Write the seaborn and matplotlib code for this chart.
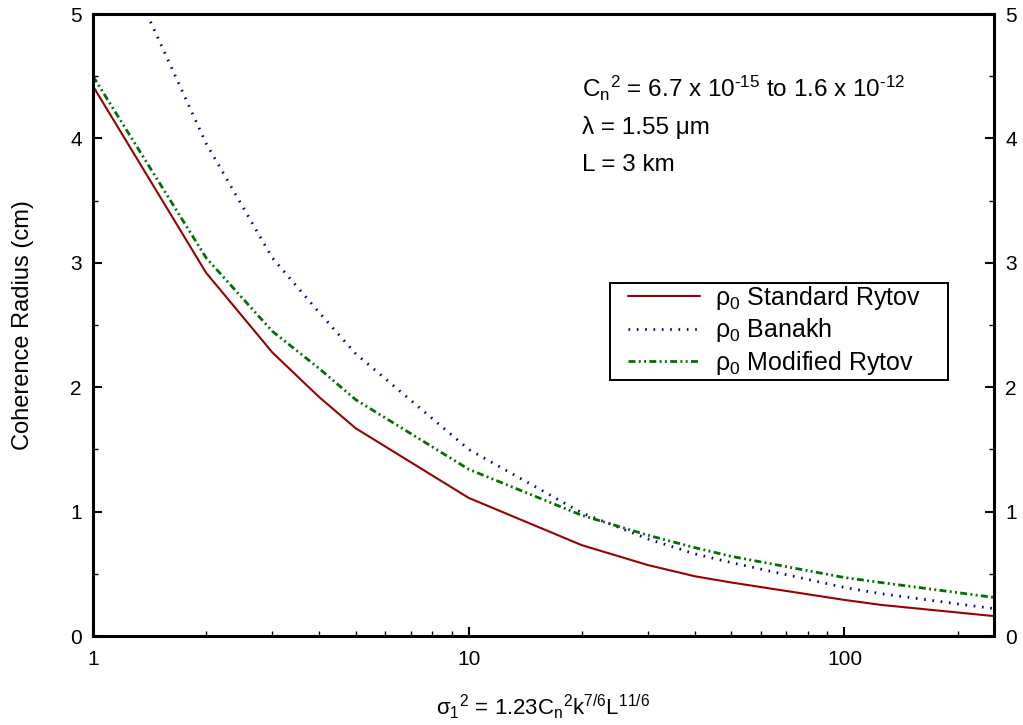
import numpy as np
import pandas as pd
import matplotlib
matplotlib.use("Agg")
import matplotlib.pyplot as plt
from matplotlib.patches import Rectangle
import seaborn as sns

# ---- data ----
sigma2 = [1, 2, 3, 4, 5, 10, 20, 30, 40, 50, 100, 125, 250]
rho_standard = [4.42, 2.92, 2.28, 1.92, 1.67, 1.11, 0.73, 0.57, 0.48, 0.43, 0.29, 0.25, 0.16]
rho_banakh = [5.95, 3.96, 3.04, 2.60, 2.27, 1.50, 0.99, 0.78, 0.66, 0.59, 0.39, 0.34, 0.22]
rho_modified = [4.50, 3.04, 2.45, 2.15, 1.90, 1.34, 0.97, 0.81, 0.71, 0.64, 0.47, 0.43, 0.31]
series_names = [r"$\mathregular{ρ_0}$ Standard Rytov",
                r"$\mathregular{ρ_0}$ Banakh",
                r"$\mathregular{ρ_0}$ Modified Rytov"]
y_ticks = [0, 1, 2, 3, 4, 5]
x_ticks = [1, 10, 100]
x_tick_labels = ["1", "10", "100"]

df = pd.DataFrame({
    "x": sigma2 * 3,
    "y": rho_standard + rho_banakh + rho_modified,
    "series": [series_names[0]] * len(sigma2) + [series_names[1]] * len(sigma2)
              + [series_names[2]] * len(sigma2),
})

sns.set_theme(style="white")
plt.rcParams["font.family"] = ["Liberation Sans", "DejaVu Sans"]
plt.rcParams["mathtext.fontset"] = "custom"
plt.rcParams["mathtext.rm"] = "Liberation Sans"
plt.rcParams["mathtext.it"] = "Liberation Sans:italic"
plt.rcParams["mathtext.bf"] = "Liberation Sans:bold"
plt.rcParams["text.color"] = "black"
plt.rcParams["axes.labelcolor"] = "black"
plt.rcParams["xtick.color"] = "black"
plt.rcParams["ytick.color"] = "black"

fig = plt.figure(figsize=(10.23, 7.25), dpi=100)
ax = fig.add_axes([93 / 1023, 1 - 636 / 725, (994 - 93) / 1023, (636 - 14) / 725])

colors = {series_names[0]: "#990000", series_names[1]: "#000099", series_names[2]: "#007000"}
styles = {series_names[0]: "-",
          series_names[1]: (0, (0.6, 2.4)),
          series_names[2]: (0, (2.5, 1.2, 0.7, 1.2, 0.7, 1.2))}
widths = {series_names[0]: 1.5, series_names[1]: 2.0, series_names[2]: 2.0}

for name in series_names:
    sub = df[df["series"] == name]
    sns.lineplot(data=sub, x="x", y="y", ax=ax, color=colors[name],
                 linestyle=styles[name], linewidth=widths[name], label=name,
                 estimator=None, sort=False)

ax.set_xscale("log")
ax.set_xlim(1, 250)
ax.set_ylim(0, 5)
ax.set_xticks(x_ticks)
ax.set_xticklabels(x_tick_labels)
ax.set_xticks([v * d for d in (1, 10, 100) for v in range(2, 10) if v * d < 250], minor=True)
ax.xaxis.set_minor_formatter(matplotlib.ticker.NullFormatter())
ax.set_yticks(y_ticks)
ax.set_yticks([0.5, 1.5, 2.5, 3.5, 4.5], minor=True)

for sp in ax.spines.values():
    sp.set_visible(True)
    sp.set_color("black")
    sp.set_linewidth(2.2)

ax.tick_params(axis="both", which="major", direction="in", length=6.5, width=1.5,
               labelsize=15, colors="black")
ax.tick_params(axis="x", which="major", pad=10)
ax.tick_params(axis="y", which="major", pad=8)
ax.tick_params(axis="both", which="minor", direction="in", length=3.5, width=1.0)
ax.tick_params(axis="y", which="both", left=True, right=True, labelleft=True, labelright=True)
ax.tick_params(axis="x", which="both", bottom=True, top=False)

ax.set_xlabel(r"$\mathregular{σ_1{}^2}$ = 1.23C$\mathregular{_n{}^2}$k$\mathregular{^{7/6}}$L$\mathregular{^{11/6}}$",
              fontsize=16)
ax.xaxis.set_label_coords(0.5, -0.09)
ax.set_ylabel("Coherence Radius (cm)", fontsize=17)
ax.yaxis.set_label_coords(-0.066, 0.5)

ax.text(0.543, 0.881, r"C$\mathregular{_n{}^2}$ = 6.7 x 10$\mathregular{^{\text{-15}}}$ to 1.6 x 10$\mathregular{^{\text{-12}}}$",
        transform=ax.transAxes, fontsize=17.5, va="center", ha="left")
ax.text(0.543, 0.818, "λ = 1.55 μm", transform=ax.transAxes, fontsize=17.5, va="center", ha="left")
ax.text(0.543, 0.758, "L = 3 km", transform=ax.transAxes, fontsize=17.5, va="center", ha="left")

# legend frame drawn as a rectangle, legend itself without frame
box = Rectangle((0.574, 0.4116), 0.949 - 0.574, 0.5675 - 0.4116, transform=ax.transAxes,
                facecolor="white", edgecolor="black", linewidth=1.4, zorder=3)
ax.add_patch(box)
leg = ax.legend(loc="upper left", bbox_to_anchor=(0.5935, 0.566), fontsize=18,
                frameon=False, handlelength=2.9, borderpad=0,
                labelspacing=0.18, handletextpad=0.6, borderaxespad=0)
leg.set_zorder(4)

fig.savefig("out.png", dpi=100)
